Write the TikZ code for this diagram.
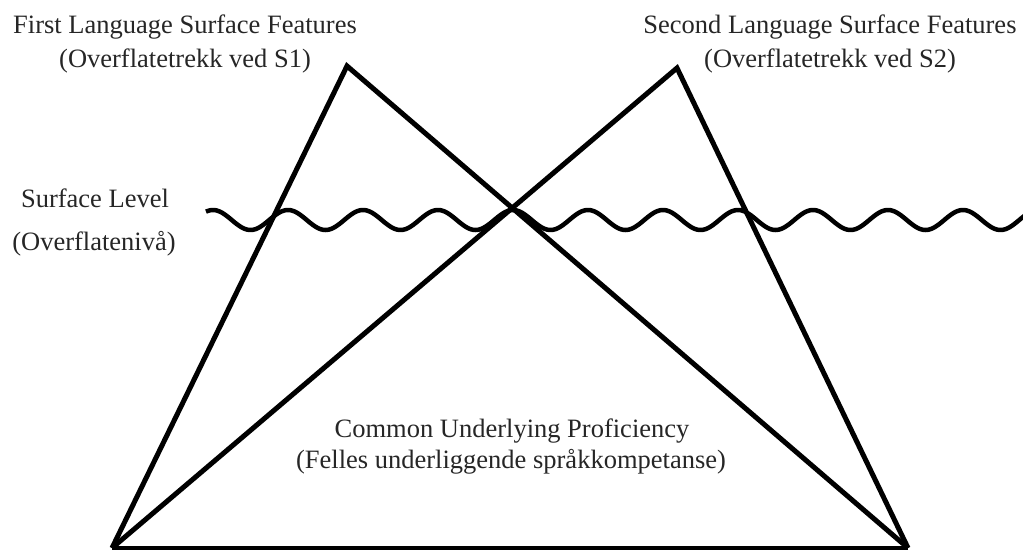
\documentclass[tikz,border=0pt]{standalone}
\usepackage{fontspec}
\setmainfont{Liberation Serif}
\begin{document}
\begin{tikzpicture}[x=1pt,y=-1pt,
  lbl/.style={anchor=base,inner sep=0pt,font=\fontsize{26.5}{30}\selectfont,text=black!85},
  side/.style={line width=5pt,line join=miter,line cap=butt},
  wave/.style={line width=4.5pt}]
\useasboundingbox (0,0) rectangle (1023,552);
\coordinate (A1) at (347,66);
\coordinate (A2) at (677,68);
\coordinate (BL) at (112,548);
\coordinate (BR) at (908,548);
\draw[side] (BL) -- (A1) -- (BR);
\draw[side] (BL) -- (A2) -- (BR);
\draw[line width=3.5pt] (BL) -- (BR);
\draw[wave] plot[domain=206:1026,samples=400,smooth] ({\x},{220-10*cos(4.8*(\x-513))});
\node[lbl] (l1a) at (185,33) {First Language Surface Features};
\node[lbl] (l1b) at (185,67) {(Overflatetrekk ved S1)};
\node[lbl] (l2a) at (830,33) {Second Language Surface Features};
\node[lbl] (l2b) at (830,67) {(Overflatetrekk ved S2)};
\node[lbl] (sl) at (95,207) {Surface Level};
\node[lbl] (slb) at (94,250) {(Overflatenivå)};
\node[lbl] (cu) at (512,437) {Common Underlying Proficiency};
\node[lbl] (cub) at (511,468) {(Felles underliggende språkkompetanse)};
\end{tikzpicture}
\end{document}
